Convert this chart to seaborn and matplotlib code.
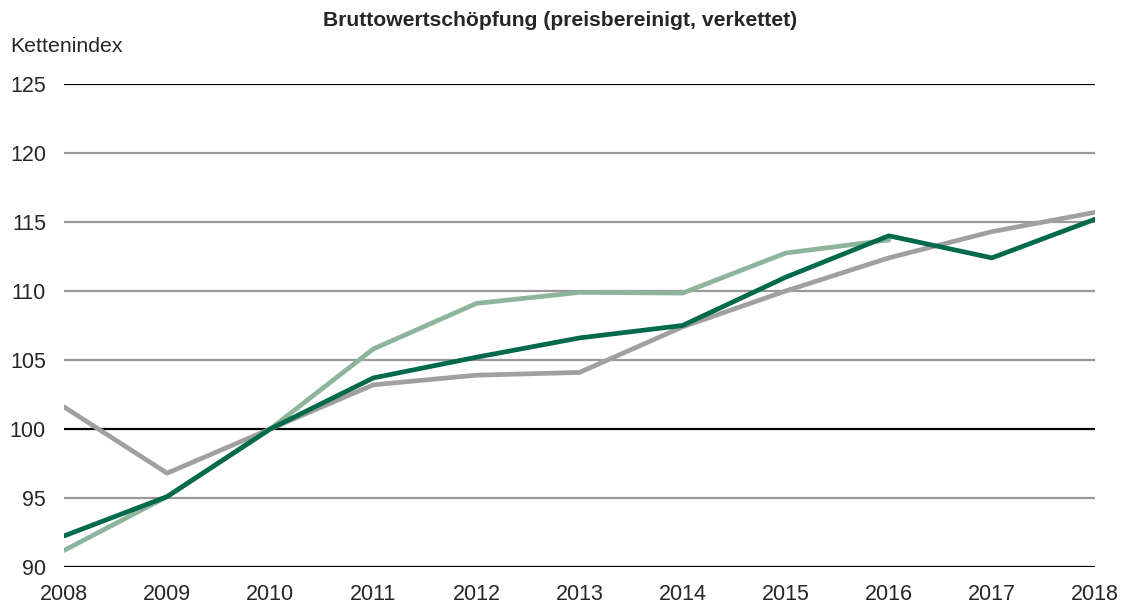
import matplotlib
matplotlib.use("Agg")
import matplotlib.pyplot as plt
import seaborn as sns
import pandas as pd

years = list(range(2008, 2019))
dark_green = [92.25, 95.1, 100.0, 103.7, 105.2, 106.6, 107.5, 111.0, 114.0, 112.4, 115.2]
gray_series = [101.6, 96.8, 100.0, 103.2, 103.9, 104.1, 107.4, 110.0, 112.4, 114.3, 115.7]
light_years = list(range(2008, 2017))
light_green = [91.2, 95.1, 100.0, 105.8, 109.1, 109.9, 109.85, 112.75, 113.7]

title = "Bruttowertschöpfung (preisbereinigt, verkettet)"
ylabel = "Kettenindex"
yticks = [90, 95, 100, 105, 110, 115, 120, 125]

sns.set_style("white")
plt.rcParams['font.family'] = ['Liberation Sans', 'DejaVu Sans']

df = pd.concat([
    pd.DataFrame({"Jahr": years, "Wert": gray_series, "Serie": "grau"}),
    pd.DataFrame({"Jahr": light_years, "Wert": light_green, "Serie": "hellgrün"}),
    pd.DataFrame({"Jahr": years, "Wert": dark_green, "Serie": "dunkelgrün"}),
])
palette = {"grau": "#A0A0A0", "hellgrün": "#8DB59B", "dunkelgrün": "#006A4B"}

fig = plt.figure(figsize=(11.21, 6.06), dpi=100)
ax = fig.add_axes([64/1121, 1-567/606, (1095-64)/1121, (567-84)/606])

for y in yticks:
    col = "#000000" if y in (90, 100, 125) else "#999999"
    ax.axhline(y, color=col, lw=1.6, zorder=0)

sns.lineplot(data=df, x="Jahr", y="Wert", hue="Serie", palette=palette,
             hue_order=["grau", "hellgrün", "dunkelgrün"],
             linewidth=3.4, ax=ax, legend=False, sort=False)

ax.set_xlim(2008, 2018)
ax.set_ylim(90, 125)
ax.set_yticks(yticks)
ax.set_xticks(years)
ax.set_xticklabels([str(y) for y in years])
ax.tick_params(axis="y", length=0, pad=13, labelsize=15.5)
ax.tick_params(axis="x", length=0, pad=12, labelsize=15.5)
for s in ax.spines.values():
    s.set_visible(False)
ax.set_xlabel("")
ax.set_ylabel("")
ax.grid(False)

fig.text(0.5, 1-20/606, title, ha="center", va="center", fontsize=15.2, fontweight="bold")
fig.text(10/1121, 1-47/606, ylabel, ha="left", va="center", fontsize=15.3)

fig.savefig("out.png", dpi=100)
